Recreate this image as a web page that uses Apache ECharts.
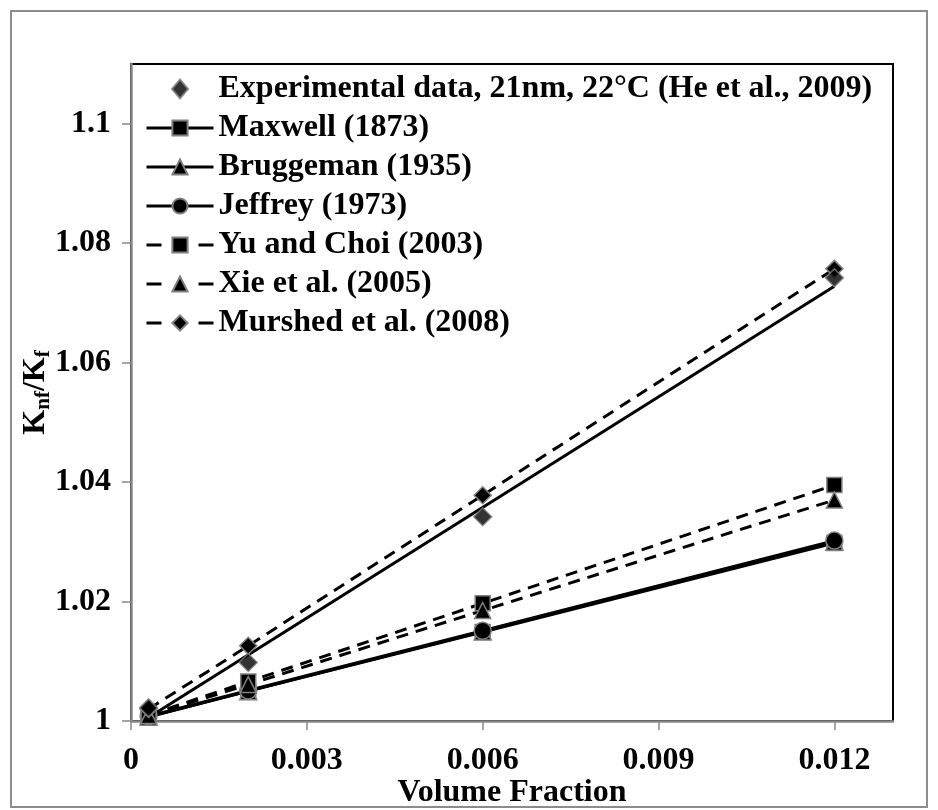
<!DOCTYPE html>
<html><head><meta charset="utf-8">
<script src="https://cdn.jsdelivr.net/npm/echarts@6/dist/echarts.min.js"></script>
<style>html,body{margin:0;padding:0;background:#fff}#c{width:938px;height:810px}</style>
</head><body><div id="c"></div>
<script>
// ---- data ----
const volumeFraction = [0.0003, 0.002, 0.006, 0.012];
const experimental = [1.0022, 1.0098, 1.0342, 1.0742];
const trendX = [0.0003, 0.012];
const trendY = [1.0006, 1.0728];
const maxwell = [1.0007, 1.0050, 1.0149, 1.0298];
const bruggeman = [1.0007, 1.0050, 1.0150, 1.0300];
const jeffrey = [1.0008, 1.0051, 1.0151, 1.0302];
const yuChoi = [1.0010, 1.0066, 1.0197, 1.0395];
const xie = [1.0009, 1.0061, 1.0185, 1.0370];
const murshed = [1.0020, 1.0126, 1.0378, 1.0757];
const seriesNames = ['Experimental data, 21nm, 22°C (He et al., 2009)', 'Maxwell (1873)', 'Bruggeman (1935)',
  'Jeffrey (1973)', 'Yu and Choi (2003)', 'Xie et al. (2005)', 'Murshed et al. (2008)'];
const xTickLabels = ['0', '0.003', '0.006', '0.009', '0.012'];
const yTickLabels = ['1', '1.02', '1.04', '1.06', '1.08', '1.1'];
const xAxisTitle = 'Volume Fraction';

// ---- chart ----
const FONT = '"Liberation Serif", "Times New Roman", serif';
const FS = 32;
const pair = (xs, ys) => xs.map((x, i) => [x, ys[i]]);
const markerStyle = { color: '#000', borderColor: '#808080', borderWidth: 1.5 };
function lineSeries(name, vals, symbol, size, dashed) {
  return {
    name, type: 'line', data: pair(volumeFraction, vals), symbol, symbolSize: size,
    showAllSymbol: true,
    lineStyle: { color: '#000', width: 3, type: dashed ? [12, 8] : 'solid' },
    itemStyle: markerStyle, z: 3
  };
}
const chart = echarts.init(document.getElementById('c'), null, { renderer: 'canvas' });
const xFmt = v => { const s = xTickLabels.find(t => Math.abs(parseFloat(t) - v) < 1e-9); return s !== undefined ? s : ''; };
const yFmt = v => { const s = yTickLabels.find(t => Math.abs(parseFloat(t) - v) < 1e-9); return s !== undefined ? s : ''; };
const textBase = { fontFamily: FONT, fontWeight: 'bold', fontSize: FS, color: '#000' };
const legendData = seriesNames.map((n, i) => {
  if (i === 0) return { name: n, icon: 'path://M0,-1L0.85,0L0,1L-0.85,0Z' };
  if (i >= 4) return { name: n, lineStyle: { type: [15, 37], width: 3, color: '#000' } };
  return { name: n, lineStyle: { type: 'solid', width: 3, color: '#000' } };
});
chart.setOption({
  animation: false,
  backgroundColor: '#fff',
  graphic: [{ type: 'rect', shape: { x: 11, y: 11, width: 916, height: 796 },
    style: { fill: 'none', stroke: '#8c8c8c', lineWidth: 2 }, z: -10 }],
  grid: { left: 131, right: 45, top: 64, bottom: 89, outerBoundsMode: 'none', show: true,
    borderColor: '#000', borderWidth: 2, backgroundColor: '#fff' },
  legend: {
    orient: 'vertical', left: 145, top: 73, itemWidth: 67, itemHeight: 19, itemGap: 7,
    backgroundColor: 'transparent', padding: 0,
    textStyle: Object.assign({}, textBase, { lineHeight: 32 }),
    data: legendData
  },
  xAxis: {
    type: 'value', min: 0, max: 0.013, interval: 0.003,
    name: xAxisTitle, nameLocation: 'middle', nameGap: 56, nameMoveOverlap: false,
    nameTextStyle: textBase,
    axisLine: { onZero: false, lineStyle: { color: '#888', width: 2.5 } },
    axisTick: { show: true, length: 9, lineStyle: { color: '#888', width: 1.5 } },
    axisLabel: Object.assign({}, textBase, { margin: 24, formatter: xFmt, showMaxLabel: false }),
    splitLine: { show: false }
  },
  yAxis: {
    type: 'value', min: 1, max: 1.11, interval: 0.02,
    name: '{k|K}{s|nf}{k|/K}{s|f}', nameLocation: 'middle', nameGap: 77, nameRotate: 90, nameMoveOverlap: false,
    nameTextStyle: Object.assign({}, textBase, {
      rich: { k: Object.assign({}, textBase),
              s: Object.assign({}, textBase, { fontSize: 21, verticalAlign: 'bottom', padding: [16, 0, 0, 0] }) } }),
    axisLine: { show: true, lineStyle: { color: '#888', width: 2.5 } },
    axisTick: { show: true, length: 9, lineStyle: { color: '#888', width: 1.5 } },
    axisLabel: Object.assign({}, textBase, { margin: 20, formatter: yFmt, showMaxLabel: false }),
    splitLine: { show: false }
  },
  series: [
    { name: 'trend', type: 'line', data: pair(trendX, trendY), symbol: 'none',
      lineStyle: { color: '#000', width: 3 }, z: 2, silent: true },
    lineSeries(seriesNames[1], maxwell, 'rect', 15, false),
    lineSeries(seriesNames[2], bruggeman, 'triangle', 17, false),
    lineSeries(seriesNames[3], jeffrey, 'circle', 17, false),
    lineSeries(seriesNames[4], yuChoi, 'rect', 15, true),
    lineSeries(seriesNames[5], xie, 'triangle', 16, true),
    lineSeries(seriesNames[6], murshed, 'diamond', 17, true),
    { name: seriesNames[0], type: 'scatter', data: pair(volumeFraction, experimental),
      symbol: 'diamond', symbolSize: 18, itemStyle: markerStyle, z: 4 }
  ]
});
</script></body></html>
